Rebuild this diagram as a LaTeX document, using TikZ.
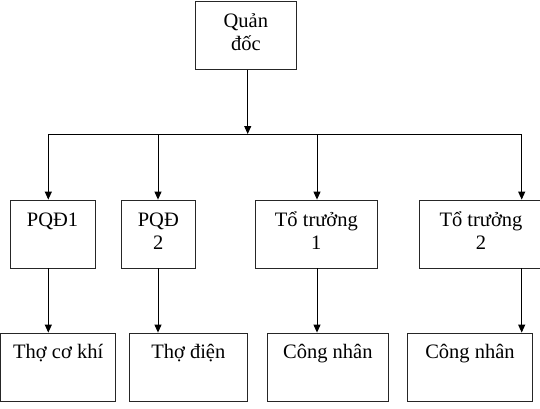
\documentclass[tikz,border=0pt]{standalone}
\usepackage{fontspec}
\setmainfont{Liberation Serif}
\usetikzlibrary{arrows.meta}
\begin{document}
\begin{tikzpicture}[x=1pt,y=-1pt,
  box/.style={draw=black!85, line width=0.8pt, rectangle, inner sep=0pt},
  lbl/.style={anchor=base, align=center, inner sep=0pt, font=\fontsize{20.5}{23}\selectfont},
  conn/.style={line width=1pt, -{Triangle[length=8pt,width=7pt]}},
  conn2/.style={line width=1pt, {Triangle[length=8pt,width=7pt]}-{Triangle[length=8pt,width=7pt]}, line join=miter}]
\useasboundingbox[fill=white] (0,0) rectangle (540,409);

% boxes
\node[box, minimum width=101pt, minimum height=68.3pt] (Q) at (245.8,35.15) {};
\node[box, minimum width=85pt,  minimum height=68pt] (M1) at (52.5,234) {};
\node[box, minimum width=74.7pt, minimum height=68pt] (M2) at (158.35,234) {};
\node[box, minimum width=121.3pt, minimum height=68pt] (M3) at (316.35,234) {};
\node[box, minimum width=123.4pt, minimum height=68pt] (M4) at (481,234) {};
\node[box, minimum width=115pt, minimum height=68.7pt] (B1) at (58.2,367.35) {};
\node[box, minimum width=118pt, minimum height=68.7pt] (B2) at (188.3,367.35) {};
\node[box, minimum width=121pt, minimum height=68.7pt] (B3) at (327.8,367.35) {};
\node[box, minimum width=125.4pt, minimum height=68.7pt] (B4) at (470,367.35) {};

% labels (base anchor of a two-line label is its last line)
\node[lbl] (tQ) at ([yshift=-49.5pt]Q.north) {Quản\\đốc};
\node[lbl] (t1) at ([yshift=-26.5pt]M1.north) {PQĐ1};
\node[lbl] (t2) at ([yshift=-49.5pt]M2.north) {PQĐ\\2};
\node[lbl] (t3) at ([yshift=-49.5pt]M3.north) {Tổ trưởng\\1};
\node[lbl] (t4) at ([yshift=-49.5pt]M4.north) {Tổ trưởng\\2};
\node[lbl] (u1) at ([yshift=-26pt]B1.north) {Thợ cơ khí};
\node[lbl] (u2) at ([yshift=-26pt]B2.north) {Thợ điện};
\node[lbl] (u3) at ([yshift=-26pt]B3.north) {Công nhân};
\node[lbl] (u4) at ([yshift=-26pt]B4.north) {Công nhân};

% bus coordinates
\coordinate (q)  at (247.7,134);
\coordinate (b1) at (48.3,134);
\coordinate (b2) at (158,134);
\coordinate (b3) at (317,134);
\coordinate (b4) at (521.7,134);

% connectors
\draw[conn] (q |- Q.south) -- (q);
\draw[conn2] (b1 |- M1.north) -- (b1) -- (b4) -- (b4 |- M4.north);
\draw[conn] (b2) -- (b2 |- M2.north);
\draw[conn] (b3) -- (b3 |- M3.north);
\draw[conn] (b1 |- M1.south) -- (b1 |- B1.north);
\draw[conn] (b2 |- M2.south) -- (b2 |- B2.north);
\draw[conn] (b3 |- M3.south) -- (b3 |- B3.north);
\draw[conn] (b4 |- M4.south) -- (b4 |- B4.north);
\end{tikzpicture}
\end{document}
